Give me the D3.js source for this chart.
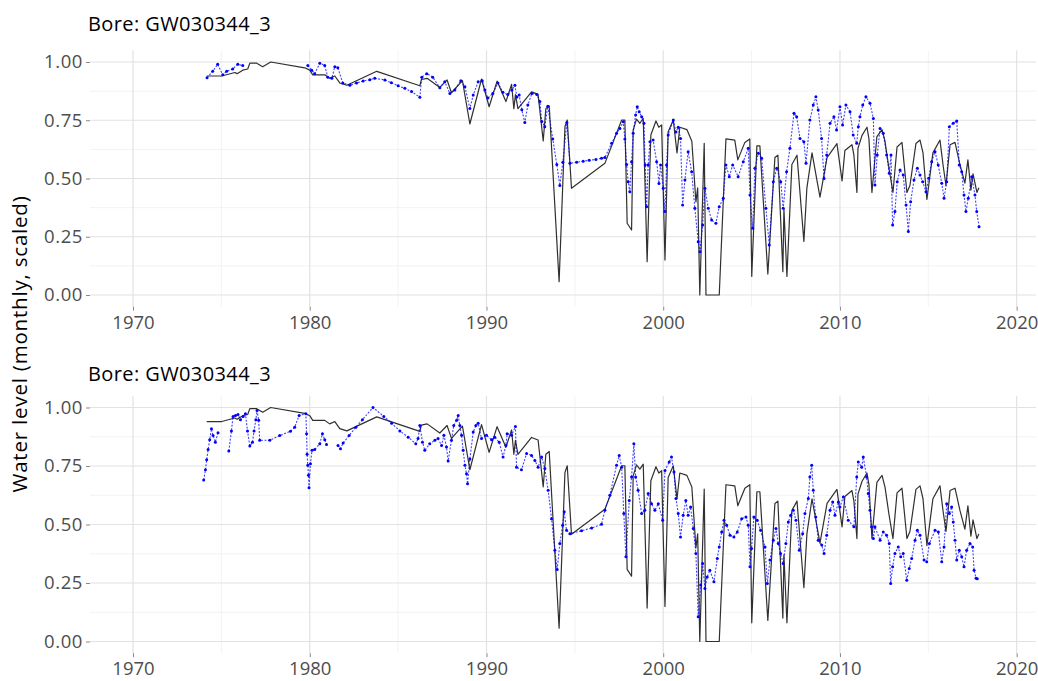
<!DOCTYPE html>
<html>
<head>
<meta charset="utf-8">
<script src="https://cdn.jsdelivr.net/npm/d3@7"></script>
<style>
  body { margin: 0; background: #fff; }
  svg { display: block; }
</style>
</head>
<body>
<svg id="chart" width="1038" height="681"></svg>
<script>
// ---- data -------------------------------------------------------------
const boreId = "GW030344_3";
const yearTicks = [1970, 1980, 1990, 2000, 2010, 2020];
const yearMinor = [1975, 1985, 1995, 2005, 2015];
const levelTicks = [0, 0.25, 0.5, 0.75, 1];
const levelMinor = [0.125, 0.375, 0.625, 0.875];
const yearSpan = [1970, 2018.66];

// observed scaled monthly water level: [decimal year, level]
const observed = [
  [1974.17,0.94],[1975.02,0.94],[1975.76,0.955],[1975.89,0.95],[1976.21,0.965],[1976.49,0.97],
  [1976.61,0.995],[1977.00,0.995],[1977.34,0.98],[1977.79,1.0],[1979.72,0.975],[1980.00,0.965],
  [1980.17,0.945],[1980.85,0.945],[1981.13,0.93],[1981.42,0.94],[1981.70,0.91],[1982.10,0.90],
  [1983.79,0.96],[1986.23,0.898],[1986.32,0.925],[1986.64,0.93],[1987.36,0.891],[1987.77,0.923],
  [1988.02,0.868],[1988.64,0.92],[1989.06,0.734],[1989.72,0.927],[1990.15,0.808],[1990.60,0.918],
  [1991.10,0.83],[1991.42,0.904],[1991.55,0.80],[1991.64,0.86],[1991.78,0.80],[1992.55,0.872],
  [1992.92,0.861],[1993.21,0.661],[1993.36,0.80],[1993.55,0.812],[1994.11,0.057],[1994.44,0.722],
  [1994.57,0.751],[1994.81,0.458],[1996.70,0.565],[1997.65,0.751],[1997.83,0.751],[1997.96,0.308],
  [1998.21,0.279],[1998.30,0.708],[1998.49,0.755],[1998.68,0.737],[1998.87,0.758],[1999.09,0.143],
  [1999.30,0.687],[1999.59,0.747],[1999.75,0.72],[1999.91,0.73],[2000.10,0.15],[2000.28,0.701],
  [2000.57,0.751],[2000.78,0.61],[2000.94,0.72],[2001.34,0.71],[2001.62,0.66],[2001.85,0.40],
  [2001.95,0.46],[2002.07,0.0],[2002.32,0.651],[2002.42,0.0],[2003.17,0.0],[2003.55,0.67],
  [2004.05,0.665],[2004.22,0.58],[2004.62,0.655],[2004.90,0.67],[2005.01,0.08],[2005.30,0.64],
  [2005.47,0.64],[2005.92,0.09],[2006.32,0.59],[2006.49,0.60],[2006.77,0.10],[2006.83,0.37],
  [2007.00,0.08],[2007.28,0.56],[2007.57,0.60],[2007.96,0.23],[2008.13,0.46],[2008.42,0.61],
  [2008.87,0.42],[2009.27,0.59],[2009.83,0.65],[2010.12,0.49],[2010.28,0.62],[2010.68,0.645],
  [2010.79,0.60],[2010.96,0.44],[2011.02,0.63],[2011.25,0.685],[2011.53,0.72],[2011.64,0.67],
  [2011.81,0.44],[2012.09,0.68],[2012.38,0.71],[2012.55,0.66],[2012.77,0.545],[2013.00,0.44],
  [2013.23,0.635],[2013.51,0.655],[2013.79,0.44],[2013.96,0.47],[2014.30,0.65],[2014.53,0.665],
  [2014.70,0.61],[2014.92,0.41],[2015.26,0.61],[2015.66,0.665],[2015.83,0.56],[2016.00,0.47],
  [2016.23,0.645],[2016.51,0.655],[2016.79,0.56],[2017.07,0.48],[2017.24,0.58],[2017.41,0.45],
  [2017.53,0.52],[2017.75,0.44],[2017.86,0.46]
];

// first model run (null = no prediction)
const predictedA = [
  [1974.19,0.932],[1974.51,0.96],[1974.79,0.99],[1975.08,0.945],[1975.30,0.96],[1975.64,0.97],
  [1975.93,0.99],[1976.21,0.985],[1976.30,null],
  [1979.89,0.985],[1980.11,0.965],[1980.28,0.95],[1980.57,0.995],[1980.85,0.985],[1981.02,0.935],
  [1981.25,0.93],[1981.42,0.98],[1981.59,0.975],[1981.87,0.91],[1982.27,0.90],[1982.65,0.91],
  [1983.02,0.918],[1983.40,0.924],[1983.68,0.93],[1984.25,0.923],[1984.62,0.911],[1985.00,0.898],
  [1985.38,0.887],[1985.76,0.873],[1986.23,0.849],[1986.34,0.935],[1986.62,0.95],[1986.96,0.935],
  [1987.36,0.89],[1987.64,0.915],[1987.93,0.865],[1988.21,0.88],[1988.55,0.92],[1988.78,0.894],
  [1989.06,0.80],[1989.25,0.858],[1989.53,0.915],[1989.76,0.92],[1989.91,0.88],[1990.08,0.845],
  [1990.36,0.865],[1990.65,0.91],[1990.93,0.87],[1991.21,0.86],[1991.44,0.88],[1991.61,0.90],
  [1991.72,0.85],[1991.85,0.858],[1992.00,0.795],[1992.17,0.74],[1992.34,0.815],[1992.57,0.865],
  [1992.85,0.86],[1993.02,0.83],[1993.13,0.745],[1993.30,0.722],[1993.47,0.81],[1993.75,0.67],
  [1993.98,0.56],[1994.15,0.47],[1994.32,0.57],[1994.55,0.74],[1994.72,0.565],[1995.10,0.57],
  [1995.47,0.574],[1995.81,0.578],[1996.19,0.582],[1996.51,0.587],[1996.70,0.59],[1997.08,0.651],
  [1997.36,0.694],[1997.55,0.715],[1997.74,0.744],[1997.83,0.67],[1997.93,0.56],[1998.02,0.486],
  [1998.11,0.443],[1998.21,0.572],[1998.30,0.694],[1998.44,0.773],[1998.53,0.808],[1998.64,0.787],
  [1998.78,0.765],[1998.91,0.737],[1998.98,0.558],[1999.06,0.379],[1999.15,0.558],[1999.25,0.658],
  [1999.43,0.665],[1999.63,0.572],[1999.76,0.479],[1999.85,0.558],[2000.00,0.458],[2000.10,0.358],
  [2000.19,0.558],[2000.28,0.687],[2000.57,0.751],[2000.72,0.70],[2000.85,0.72],[2000.98,0.672],
  [2001.10,0.386],[2001.23,0.494],[2001.41,0.615],[2001.61,0.529],[2001.79,0.372],[2001.98,0.229],
  [2002.08,0.186],[2002.23,0.30],[2002.36,0.458],[2002.55,0.372],[2002.74,0.322],[2002.98,0.308],
  [2003.17,0.379],[2003.40,0.415],[2003.55,0.558],[2003.74,0.508],[2003.93,0.558],[2004.24,0.508],
  [2004.53,0.572],[2004.81,0.63],[2004.91,0.429],[2005.06,0.286],[2005.19,0.544],[2005.38,0.608],
  [2005.57,0.587],[2005.81,0.372],[2006.00,0.215],[2006.23,0.486],[2006.42,0.544],[2006.65,0.486],
  [2006.79,0.372],[2006.98,0.529],[2007.17,0.63],[2007.40,0.78],[2007.55,0.765],[2007.74,0.672],
  [2007.96,0.658],[2008.08,0.565],[2008.30,0.751],[2008.49,0.815],[2008.64,0.851],[2008.77,0.794],
  [2008.96,0.672],[2009.10,0.50],[2009.25,0.601],[2009.44,0.737],[2009.66,0.765],[2009.81,0.708],
  [2010.00,0.808],[2010.15,0.73],[2010.34,0.815],[2010.57,0.787],[2010.75,0.687],[2010.95,0.651],
  [2011.04,0.722],[2011.13,0.765],[2011.29,0.815],[2011.47,0.851],[2011.70,0.823],[2011.89,0.758],
  [2011.98,0.472],[2012.11,0.601],[2012.27,0.715],[2012.45,0.694],[2012.64,0.601],[2012.79,0.522],
  [2012.89,0.601],[2012.98,0.30],[2013.11,0.358],[2013.24,0.486],[2013.40,0.536],[2013.58,0.515],
  [2013.74,0.386],[2013.87,0.272],[2014.00,0.40],[2014.19,0.494],[2014.38,0.544],[2014.53,0.515],
  [2014.68,0.486],[2014.87,0.443],[2015.02,0.501],[2015.19,0.572],[2015.38,0.615],[2015.56,0.558],
  [2015.76,0.48],[2015.89,0.415],[2016.04,0.486],[2016.19,0.722],[2016.41,0.737],[2016.61,0.747],
  [2016.75,0.558],[2016.89,0.529],[2017.02,0.429],[2017.13,0.358],[2017.26,0.415],[2017.46,0.508],
  [2017.64,0.429],[2017.74,0.358],[2017.87,0.293]
];

// second model run
const predictedB = [
  [1974.00,0.69],[1974.10,0.734],[1974.17,0.777],[1974.25,0.82],[1974.34,0.862],[1974.44,0.909],
  [1974.53,0.88],[1974.66,0.852],[1974.81,0.892],[1975.00,null],
  [1975.42,0.814],[1975.57,0.90],[1975.66,0.962],[1975.80,0.966],[1975.94,0.97],[1976.08,0.948],
  [1976.23,0.962],[1976.36,0.973],[1976.48,0.90],[1976.61,0.835],[1976.76,0.852],[1976.85,0.90],
  [1976.95,0.948],[1977.02,0.987],[1977.11,0.945],[1977.17,0.86],[1977.74,0.86],[1978.30,0.88],
  [1978.91,0.898],[1979.15,0.916],[1979.40,0.966],[1979.78,0.973],[1979.82,0.888],[1979.85,0.80],
  [1979.89,0.753],[1979.93,0.71],[1979.96,0.657],[1980.04,0.76],[1980.13,0.817],[1980.28,0.82],
  [1980.57,0.845],[1980.72,0.888],[1980.85,0.862],[1980.95,0.842],[1981.20,null],
  [1981.60,0.838],[1981.74,0.824],[1981.89,0.848],[1982.23,0.88],[1982.61,0.916],[1982.98,0.948],
  [1983.58,1.0],[1984.19,0.962],[1984.63,0.933],[1985.10,0.90],[1985.57,0.873],[1986.00,0.845],
  [1986.13,0.867],[1986.23,0.923],[1986.38,0.852],[1986.51,0.817],[1986.79,0.845],[1987.08,0.86],
  [1987.26,0.867],[1987.46,0.838],[1987.59,0.881],[1987.74,0.831],[1987.83,0.771],[1988.02,0.86],
  [1988.15,0.923],[1988.31,0.945],[1988.40,0.966],[1988.49,0.923],[1988.59,0.881],[1988.68,0.817],
  [1988.78,0.753],[1988.87,0.717],[1988.93,0.674],[1989.06,0.78],[1989.25,0.895],[1989.40,0.923],
  [1989.53,0.933],[1989.72,0.867],[1990.00,0.881],[1990.29,0.862],[1990.47,0.873],[1990.72,0.852],
  [1990.94,0.788],[1991.10,0.838],[1991.17,0.888],[1991.42,0.881],[1991.64,0.919],[1991.70,0.745],
  [1991.98,0.734],[1992.27,0.803],[1992.55,0.795],[1992.74,0.774],[1992.92,0.745],[1993.12,0.788],
  [1993.30,0.739],[1993.49,0.646],[1993.68,0.525],[1993.87,0.39],[1994.00,0.308],[1994.15,0.419],
  [1994.31,0.497],[1994.40,0.554],[1994.53,0.475],[1994.72,0.461],[1995.38,0.473],[1995.95,0.485],
  [1996.51,0.501],[1996.70,0.561],[1996.98,0.625],[1997.36,0.753],[1997.51,0.795],[1997.65,0.745],
  [1997.77,0.547],[1997.89,0.362],[1998.08,0.603],[1998.21,0.703],[1998.34,0.845],[1998.44,0.703],
  [1998.58,0.646],[1998.78,0.547],[1998.96,0.561],[1999.15,0.632],[1999.34,0.589],[1999.53,0.561],
  [1999.72,0.589],[1999.97,0.518],[2000.10,0.731],[2000.34,0.767],[2000.47,0.788],[2000.61,0.724],
  [2000.72,0.611],[2000.85,0.547],[2000.98,0.447],[2001.13,0.539],[2001.28,0.603],[2001.41,0.539],
  [2001.55,0.575],[2001.70,0.483],[2001.85,0.376],[2001.98,0.106],[2002.12,0.241],[2002.23,0.333],
  [2002.36,0.227],[2002.49,0.276],[2002.64,0.305],[2002.87,0.255],[2003.06,0.355],[2003.17,0.404],
  [2003.31,0.468],[2003.44,0.518],[2003.59,0.497],[2003.78,0.454],[2004.00,0.447],[2004.19,0.468],
  [2004.44,0.525],[2004.68,0.532],[2004.81,0.497],[2004.91,0.319],[2005.00,0.397],[2005.13,0.532],
  [2005.32,0.518],[2005.51,0.475],[2005.76,0.404],[2005.89,0.248],[2006.04,0.348],[2006.23,0.433],
  [2006.38,0.483],[2006.51,0.419],[2006.64,0.376],[2006.79,0.333],[2006.94,0.419],[2007.08,0.511],
  [2007.21,0.539],[2007.36,0.561],[2007.51,0.518],[2007.70,0.39],[2007.89,0.461],[2008.02,0.547],
  [2008.21,0.611],[2008.30,0.703],[2008.40,0.753],[2008.49,0.646],[2008.63,0.532],[2008.77,0.433],
  [2008.97,0.412],[2009.10,0.376],[2009.25,0.454],[2009.44,0.561],[2009.59,0.596],[2009.72,0.539],
  [2009.91,0.596],[2010.00,0.575],[2010.19,0.618],[2010.47,0.518],[2010.79,0.49],[2010.95,0.703],
  [2011.04,0.767],[2011.23,0.745],[2011.32,0.788],[2011.51,0.703],[2011.60,0.632],[2011.70,0.561],
  [2011.79,0.49],[2011.89,0.44],[2011.98,0.49],[2012.27,0.433],[2012.45,0.468],[2012.64,0.454],
  [2012.79,0.419],[2012.87,0.248],[2012.98,0.319],[2013.11,0.376],[2013.30,0.404],[2013.44,0.362],
  [2013.58,0.376],[2013.78,0.262],[2013.92,0.312],[2014.06,0.355],[2014.25,0.433],[2014.38,0.475],
  [2014.53,0.454],[2014.76,0.348],[2014.91,0.341],[2015.06,0.419],[2015.38,0.475],[2015.57,0.468],
  [2015.76,0.341],[2015.89,0.404],[2016.04,0.589],[2016.19,0.547],[2016.32,0.575],[2016.41,0.511],
  [2016.51,0.433],[2016.61,0.348],[2016.75,0.39],[2016.89,0.362],[2017.02,0.319],[2017.17,0.39],
  [2017.36,0.419],[2017.51,0.404],[2017.59,0.305],[2017.70,0.27],[2017.77,0.268]
];

// ---- layout -----------------------------------------------------------
const svg = d3.select("#chart");
const FONT = "'Open Sans', 'Noto Sans', sans-serif";
const panelLeft = 90, panelRight = 1036;

const pad = (yearSpan[1] - yearSpan[0]) * 0.05;
const x = d3.scaleLinear()
  .domain([yearSpan[0] - pad, yearSpan[1] + pad])
  .range([panelLeft, panelRight]);

const panels = [
  { series: predictedA, top: 50.35, bottom: 306.65, titleY: 31, labelY: 329 },
  { series: predictedB, top: 395.8, bottom: 653.2, titleY: 381, labelY: 675 }
];

panels.forEach(p => {
  const y = d3.scaleLinear().domain([-0.05, 1.05]).range([p.bottom, p.top]);
  const g = svg.append("g");

  // minor grid
  g.selectAll(".hminor").data(levelMinor).join("line")
    .attr("x1", panelLeft).attr("x2", panelRight)
    .attr("y1", d => y(d)).attr("y2", d => y(d))
    .attr("stroke", "#f0f0f0").attr("stroke-width", 0.9);
  g.selectAll(".vminor").data(yearMinor).join("line")
    .attr("x1", d => x(d)).attr("x2", d => x(d))
    .attr("y1", p.top).attr("y2", p.bottom)
    .attr("stroke", "#f0f0f0").attr("stroke-width", 0.9);
  // major grid
  g.selectAll(".hmajor").data(levelTicks).join("line")
    .attr("x1", panelLeft).attr("x2", panelRight)
    .attr("y1", d => y(d)).attr("y2", d => y(d))
    .attr("stroke", "#e2e2e2").attr("stroke-width", 1.2);
  g.selectAll(".vmajor").data(yearTicks).join("line")
    .attr("x1", d => x(d)).attr("x2", d => x(d))
    .attr("y1", p.top).attr("y2", p.bottom)
    .attr("stroke", "#e2e2e2").attr("stroke-width", 1.2);

  // axes
  const yAxis = d3.axisLeft(y).tickValues(levelTicks).tickFormat(d3.format(".2f"))
    .tickSize(4).tickPadding(3);
  const ya = g.append("g").attr("transform", `translate(${panelLeft},0)`).call(yAxis);
  const xAxis = d3.axisBottom(x).tickValues(yearTicks).tickFormat(d3.format("d"))
    .tickSize(4).tickPadding(4);
  const xa = g.append("g").attr("transform", `translate(0,${p.bottom})`).call(xAxis);
  [ya, xa].forEach(a => {
    a.select(".domain").remove();
    a.selectAll(".tick line").attr("stroke", "#888").attr("stroke-width", 1);
    a.selectAll(".tick text").attr("fill", "#4d4d4d")
      .style("font-family", FONT).style("font-size", "18.5px");
  });
  ya.selectAll(".tick text").style("letter-spacing", "0.6px");
  xa.selectAll(".tick text").attr("dy", null).attr("y", p.labelY - p.bottom);

  // observed
  const line = d3.line().defined(d => d[1] !== null)
    .x(d => x(d[0])).y(d => y(d[1]));
  g.append("path").datum(observed).attr("d", line)
    .attr("fill", "none").attr("stroke", "#303030").attr("stroke-width", 1.2)
    .attr("stroke-linejoin", "round");

  // predicted
  g.append("path").datum(p.series).attr("d", line)
    .attr("fill", "none").attr("stroke", "#0000ff").attr("stroke-opacity", 0.75)
    .attr("stroke-width", 1.1).attr("stroke-dasharray", "2,1.5");
  g.selectAll(".pt").data(p.series.filter(d => d[1] !== null)).join("circle")
    .attr("cx", d => x(d[0])).attr("cy", d => y(d[1])).attr("r", 1.5)
    .attr("fill", "#0000ff");

  // title
  svg.append("text").attr("x", 88).attr("y", p.titleY)
    .style("font-family", FONT).style("font-size", "20px").style("letter-spacing", "0.4px")
    .attr("fill", "#000")
    .text(`Bore: ${boreId}`);
});

// shared y-axis title
svg.append("text")
  .attr("transform", "translate(27,344) rotate(-90)")
  .attr("text-anchor", "middle")
  .style("font-family", FONT).style("font-size", "20.5px").style("letter-spacing", "0.8px")
  .attr("fill", "#000")
  .text("Water level (monthly, scaled)");
</script>
</body>
</html>
